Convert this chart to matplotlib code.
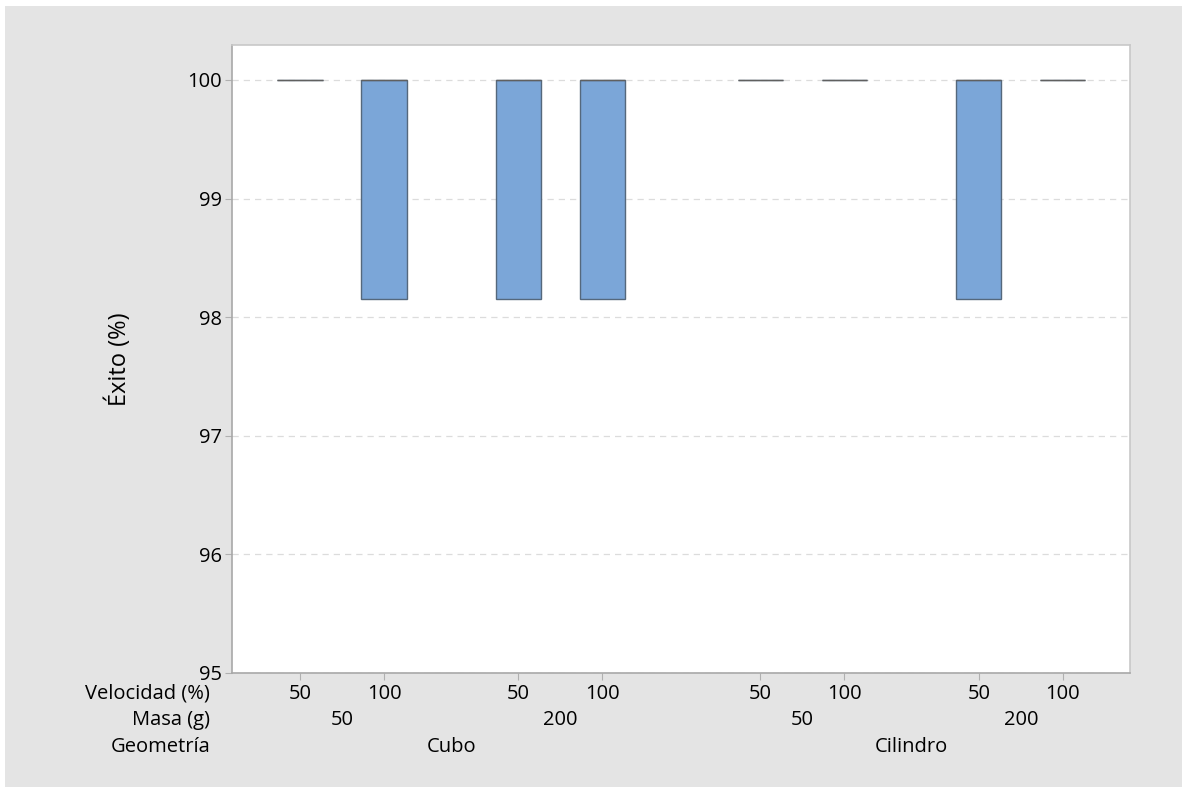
import matplotlib
matplotlib.use("Agg")
import matplotlib.pyplot as plt
from matplotlib.patches import Rectangle
from matplotlib.transforms import blended_transform_factory

plt.rcParams['font.family'] = ['Open Sans', 'DejaVu Sans']

# Data
geometria = ["Cubo", "Cilindro"]
masa = ["50", "200"]
velocidad = ["50", "100"]
# box stats (Q1, median, Q3) per cell in order Cubo/50/50, Cubo/50/100, Cubo/200/50, ...
q1 = [100, 98.15, 98.15, 98.15, 100, 100, 98.15, 100]
med = [100, 100, 100, 100, 100, 100, 100, 100]
q3 = [100, 100, 100, 100, 100, 100, 100, 100]

# Layout positions (gaps between groups)
within = 1.0
gap_mass = 1.6
gap_geo = 1.88
positions = []
x = 0.0
for gi in range(len(geometria)):
    for mi in range(len(masa)):
        for vi in range(len(velocidad)):
            positions.append(x)
            if vi < len(velocidad) - 1:
                x += within
        if mi < len(masa) - 1:
            x += gap_mass
    if gi < len(geometria) - 1:
        x += gap_geo

FS = 14.5
W, H = 1182, 787
fig = plt.figure(figsize=(W / 100, H / 100), dpi=100)
fig.patch.set_facecolor('white')
fig.patches.append(Rectangle((5 / W, 0), 1, 1 - 6 / H, transform=fig.transFigure,
                             facecolor='#e4e4e4', edgecolor='none', zorder=-10))

ax = fig.add_axes([232 / W, 1 - 673 / H, (1130 - 232) / W, (673 - 45) / H])
ax.set_facecolor('white')

stats = []
for i in range(len(positions)):
    stats.append(dict(q1=q1[i], med=med[i], q3=q3[i], whislo=q1[i], whishi=q3[i], fliers=[]))

ax.bxp(stats, positions=positions, widths=0.54, patch_artist=True, showcaps=False,
       boxprops=dict(facecolor='#7ba6d8', edgecolor='#55687c', linewidth=1.0),
       medianprops=dict(color='#606060', linewidth=1.0),
       whiskerprops=dict(color='#606060', linewidth=1.0), zorder=3)

ax.set_ylim(95, 100.295)
ax.set_xlim(positions[0] - 0.81, positions[-1] + 0.80)
ax.set_yticks([95, 96, 97, 98, 99, 100])
ax.set_yticklabels(["95", "96", "97", "98", "99", "100"], fontsize=FS)
ax.yaxis.grid(True, linestyle=(0, (5, 4)), color='#dcdcdc', linewidth=0.9)
ax.set_axisbelow(True)

ax.set_xticks(positions)
ax.set_xticklabels([velocidad[i % 2] for i in range(len(positions))], fontsize=FS)
ax.tick_params(axis='both', colors='#b0b0b0', labelcolor='black', length=5, width=0.8)
ax.tick_params(axis='x', pad=3)
ax.tick_params(axis='y', pad=2)

for side in ['left', 'bottom']:
    ax.spines[side].set_color('#a8a8a8')
for side in ['top', 'right']:
    ax.spines[side].set_color('#c8c8c8')
for s in ax.spines.values():
    s.set_linewidth(1.2)

ax.set_ylabel("Éxito (%)", fontsize=17, labelpad=40)

# Row labels
fig_x = 210 / W
for label, ypix in [("Velocidad (%)", 693), ("Masa (g)", 720), ("Geometría", 747)]:
    fig.text(fig_x, 1 - ypix / H, label, ha='right', va='center', fontsize=FS)

# Mass and geometry labels
bt = blended_transform_factory(ax.transData, fig.transFigure)
for gi in range(len(geometria)):
    for mi in range(len(masa)):
        idx = gi * 4 + mi * 2
        xc = (positions[idx] + positions[idx + 1]) / 2
        fig.text(xc, 1 - 720 / H, masa[mi], ha='center', va='center', fontsize=FS, transform=bt)
    xg = (positions[gi * 4] + positions[gi * 4 + 3]) / 2
    fig.text(xg, 1 - 747 / H, geometria[gi], ha='center', va='center', fontsize=FS, transform=bt)

fig.savefig("out.png", dpi=100, facecolor=fig.get_facecolor())
